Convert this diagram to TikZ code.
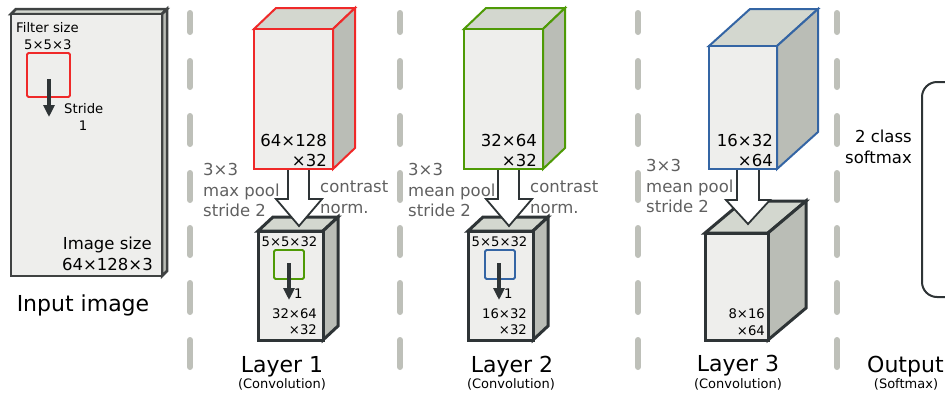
\documentclass[tikz,border=0pt]{standalone}
\usepackage{fontspec}
\setmainfont{DejaVu Sans}
\usetikzlibrary{arrows.meta}

\definecolor{frontc}{HTML}{EEEEEC}
\definecolor{topc}{HTML}{D3D7CF}
\definecolor{sidec}{HTML}{BABDB6}
\definecolor{sepc}{HTML}{BEC0B9}
\definecolor{darkc}{HTML}{2E3436}
\definecolor{inputc}{HTML}{3F4242}
\definecolor{labc}{HTML}{606060}
\definecolor{redc}{HTML}{EF2929}
\definecolor{greenc}{HTML}{4E9A06}
\definecolor{bluec}{HTML}{3465A4}

\tikzset{
  sep/.style={line width=6pt, draw=sepc, line cap=round},
  topcube/.style={line width=2pt, line join=miter},
  lowcube/.style={line width=3pt, draw=darkc, line join=miter},
  hollow/.style={line width=1.8pt, draw=darkc, fill=white, line join=miter},
  stridearrow/.style={line width=3.2pt, draw=darkc,
    -{Triangle[length=12pt,width=11pt]}},
  filterbox/.style={line width=1.8pt, rounded corners=1.5pt},
  gtext/.style={text=labc, inner sep=0pt, font=\fontsize{16.5}{20}\selectfont},
  btext/.style={text=black, inner sep=0pt, font=\fontsize{16.5}{20}\selectfont},
  stext/.style={text=black, inner sep=0pt, font=\fontsize{13.2}{15}\selectfont},
  title/.style={text=black, inner sep=0pt, font=\fontsize{22}{26}\selectfont},
  subtitle/.style={text=black, inner sep=0pt, font=\fontsize{13}{15}\selectfont},
}

% cuboid: front face (x1,y1)-(x2,y2), depth (dx,dy), stroke style
\newcommand\drawcuboid[7]{%
  \filldraw[#7, fill=topc] (#1,#2) -- (#1+#5,#2-#6) -- (#3+#5,#2-#6) -- (#3,#2) -- cycle;
  \filldraw[#7, fill=sidec] (#3,#2) -- (#3+#5,#2-#6) -- (#3+#5,#4-#6) -- (#3,#4) -- cycle;
  \filldraw[#7, fill=frontc] (#1,#2) rectangle (#3,#4);
}

\begin{document}
\begin{tikzpicture}[x=1pt, y=-1pt]
\useasboundingbox (0,0) rectangle (945,394);
\clip (0,0) rectangle (945,394);

% column separators
\foreach \sx in {190,400,638,837}{
  \foreach \ya/\yb in {13/32, 61/87, 116/144, 173/200, 228/255, 283/312, 340/367}{
    \draw[sep] (\sx,\ya) -- (\sx,\yb);
  }
}

% ---- input image ----
\drawcuboid{11}{14}{162}{276}{5}{5}{line width=2.5pt, draw=inputc}
\draw[filterbox, draw=redc] (27,53) rectangle (70,97);
\coordinate (in-a) at (49,79);
\coordinate (in-b) at (49,117);
\draw[stridearrow] (in-a) -- (in-b);
\node[stext, anchor=base west] (in-fs) at (16,32) {Filter size};
\node[stext, anchor=base west] (in-fd) at (24,49) {5×5×3};
\node[stext, anchor=base west] (in-st) at (64,113) {Stride};
\node[stext, anchor=base] (in-s1) at (83,130) {1};
\node[btext, anchor=base east] (in-is) at (152,249) {Image size};
\node[btext, anchor=base east] (in-id) at (153,270) {64×128×3};
\node[title, anchor=base] (in-title) at (83,311) {Input image};

% ---- layer 1 ----
\drawcuboid{258}{231}{323}{340}{15}{14}{lowcube}
\draw[hollow] (288,169) -- (288,199) -- (276,199) -- (299,226) -- (322,199) -- (309,199) -- (309,169);
\drawcuboid{254}{29}{333}{169}{22}{21}{topcube, draw=redc}
\node[btext, anchor=base east] (l1-d1) at (327,146) {64×128};
\node[btext, anchor=base east] (l1-d2) at (327,166) {×32};
\node[gtext, anchor=base west] (l1-p1) at (203,175) {3×3};
\node[gtext, anchor=base west] (l1-p2) at (203,196) {max pool};
\node[gtext, anchor=base west] (l1-p3) at (203,216) {stride 2};
\node[gtext, anchor=base west] (l1-c1) at (320,192) {contrast};
\node[gtext, anchor=base west] (l1-c2) at (320,213) {norm.};
\node[stext, anchor=base] (l1-f) at (289.5,246) {5×5×32};
\draw[filterbox, draw=greenc] (274,250) rectangle (304,279);
\coordinate (l1-a) at (289,263);
\coordinate (l1-b) at (289,300);
\draw[stridearrow] (l1-a) -- (l1-b);
\node[stext, anchor=base west] (l1-s) at (294,298) {1};
\node[stext, anchor=base east] (l1-o1) at (317,318) {32×64};
\node[stext, anchor=base east] (l1-o2) at (317,334) {×32};
\node[title, anchor=base] (l1-title) at (282,372) {Layer 1};
\node[subtitle, anchor=base] (l1-sub) at (282,388) {(Convolution)};

% ---- layer 2 ----
\drawcuboid{468}{231}{533}{340}{15}{14}{lowcube}
\draw[hollow] (498,169) -- (498,199) -- (486,199) -- (509,226) -- (532,199) -- (519,199) -- (519,169);
\drawcuboid{464}{29}{543}{169}{22}{21}{topcube, draw=greenc}
\node[btext, anchor=base east] (l2-d1) at (537,146) {32×64};
\node[btext, anchor=base east] (l2-d2) at (537,166) {×32};
\node[gtext, anchor=base west] (l2-p1) at (408,175) {3×3};
\node[gtext, anchor=base west] (l2-p2) at (408,196) {mean pool};
\node[gtext, anchor=base west] (l2-p3) at (408,216) {stride 2};
\node[gtext, anchor=base west] (l2-c1) at (530,192) {contrast};
\node[gtext, anchor=base west] (l2-c2) at (530,213) {norm.};
\node[stext, anchor=base] (l2-f) at (499.5,246) {5×5×32};
\draw[filterbox, draw=bluec] (485,250) rectangle (515,279);
\coordinate (l2-a) at (499,263);
\coordinate (l2-b) at (499,300);
\draw[stridearrow] (l2-a) -- (l2-b);
\node[stext, anchor=base west] (l2-s) at (504,298) {1};
\node[stext, anchor=base east] (l2-o1) at (527,318) {16×32};
\node[stext, anchor=base east] (l2-o2) at (527,334) {×32};
\node[title, anchor=base] (l2-title) at (512,372) {Layer 2};
\node[subtitle, anchor=base] (l2-sub) at (511,388) {(Convolution)};

% ---- layer 3 ----
\drawcuboid{705}{233}{768}{340}{38}{32}{lowcube}
\draw[hollow] (737,169) -- (737,200) -- (726,200) -- (748,224) -- (770,200) -- (759,200) -- (759,169);
\drawcuboid{709}{46}{777}{169}{41}{37}{topcube, draw=bluec}
\node[btext, anchor=base east] (l3-d1) at (773,146) {16×32};
\node[btext, anchor=base east] (l3-d2) at (773,166) {×64};
\node[gtext, anchor=base west] (l3-p1) at (646,171) {3×3};
\node[gtext, anchor=base west] (l3-p2) at (646,192) {mean pool};
\node[gtext, anchor=base west] (l3-p3) at (646,212) {stride 2};
\node[stext, anchor=base east] (l3-o1) at (765,318) {8×16};
\node[stext, anchor=base east] (l3-o2) at (765,335) {×64};
\node[title, anchor=base] (l3-title) at (738,371) {Layer 3};
\node[subtitle, anchor=base] (l3-sub) at (738,388) {(Convolution)};

% ---- output ----
\draw[line width=2pt, draw=darkc, rounded corners=15pt] (960,82) -- (922,82) -- (922,297) -- (960,297);
\node[btext, anchor=base east] (out-1) at (912,142) {2 class};
\node[btext, anchor=base east] (out-2) at (912,163) {softmax};
\node[title, anchor=base west] (out-title) at (867,372) {Output};
\node[subtitle, anchor=base] (out-sub) at (906,388) {(Softmax)};
\end{tikzpicture}
\end{document}
